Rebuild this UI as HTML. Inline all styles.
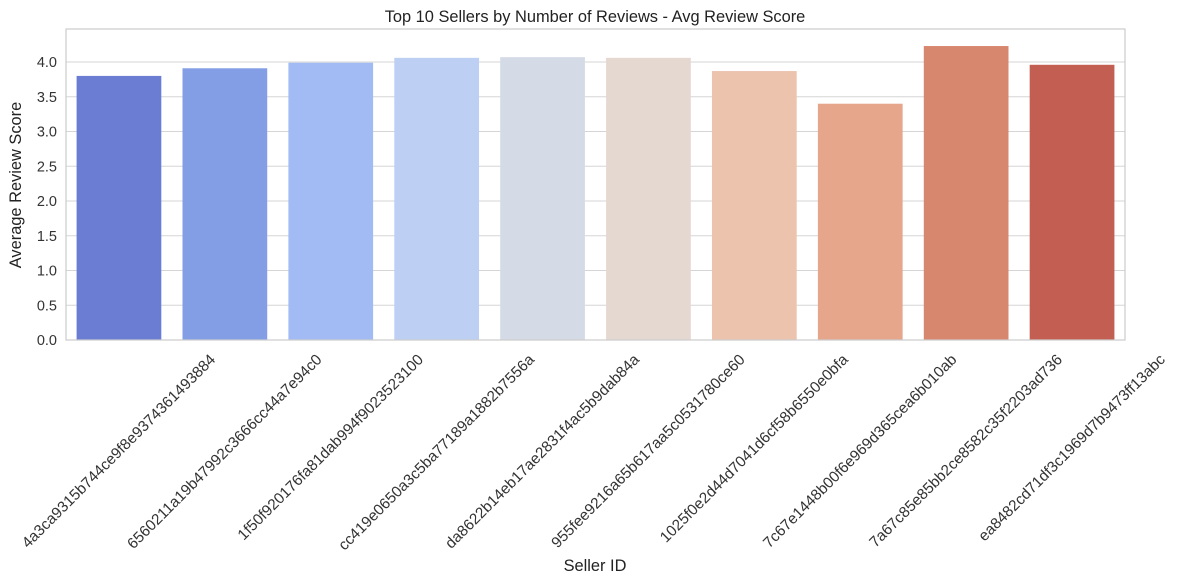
<!DOCTYPE html>
<html><head><meta charset="utf-8"><style>
body{margin:0;background:#fff;}
svg{display:block;font-family:"Liberation Sans",sans-serif;}
</style></head><body>
<svg id="chart" width="1177" height="584">
<text x="595" y="22" text-anchor="middle" font-size="16.4" fill="#222">Top 10 Sellers by Number of Reviews - Avg Review Score</text>
<text transform="translate(21,185) rotate(-90)" text-anchor="middle" font-size="16.4" fill="#222">Average Review Score</text>
<text x="595" y="571" text-anchor="middle" font-size="16.4" fill="#222">Seller ID</text>
<g id="grid"></g><g id="bars"></g><g id="yticks"></g><g id="xticks"></g>
<rect x="66" y="29" width="1059" height="311" fill="none" stroke="#ccc" stroke-width="1.2"/>
</svg>
<script>
const categories=["4a3ca9315b744ce9f8e9374361493884","6560211a19b47992c3666cc44a7e94c0","1f50f920176fa81dab994f9023523100","cc419e0650a3c5ba77189a1882b7556a","da8622b14eb17ae2831f4ac5b9dab84a","955fee9216a65b617aa5c0531780ce60","1025f0e2d44d7041d6cf58b6550e0bfa","7c67e1448b00f6e969d365cea6b010ab","7a67c85e85bb2ce8582c35f2203ad736","ea8482cd71df3c1969d7b9473ff13abc"];
const values=[3.80,3.91,3.99,4.06,4.07,4.06,3.87,3.40,4.23,3.96];
const colors=["#6a7dd3","#849ee6","#a2bbf4","#bdcff2","#d5dbe6","#e5d8d0","#ecc4ae","#e6a68b","#d8876f","#c25e52"];
const yTicks=[0,0.5,1,1.5,2,2.5,3,3.5,4];
const NS="http://www.w3.org/2000/svg";
const x0=66,x1=1125,yBase=340,yTop=29,yMax=4.475;
const band=(x1-x0)/categories.length;
function yScale(v){return yBase-(v/yMax)*(yBase-yTop);}
function xCenter(i){return x0+band*(i+0.5);}
function mk(t,a,p){const e=document.createElementNS(NS,t);for(const k in a)e.setAttribute(k,a[k]);document.getElementById(p).appendChild(e);return e;}
yTicks.forEach(t=>{
  const g=mk("line",{x1:x0,x2:x1,y1:yScale(t),y2:yScale(t),stroke:"#d5d5d5","stroke-width":1.1},"grid");
  
  
  const l=mk("text",{x:x0-9,y:yScale(t)+5,"text-anchor":"end","font-size":14.5,fill:"#333"},"yticks");
  l.textContent=t.toFixed(1);
  
  
});
values.forEach((v,i)=>{
  const w=band*0.8;
  const r=mk("rect",{x:xCenter(i)-w/2,y:yScale(v),width:w,height:yBase-yScale(v),fill:colors[i]},"bars");
  
  
});
categories.forEach((c,i)=>{
  const t=mk("text",{"font-size":15.3,fill:"#333","text-anchor":"middle","dominant-baseline":"central"},"xticks");
  t.textContent=c;
  
  
  const L=t.getComputedTextLength();
  const h=(L+15)*0.7071;
  const cy=352+h/2;
  t.setAttribute("x",xCenter(i));t.setAttribute("y",cy);
  t.setAttribute("transform","rotate(-45 "+xCenter(i)+" "+cy+")");
});
</script>
</body></html>
